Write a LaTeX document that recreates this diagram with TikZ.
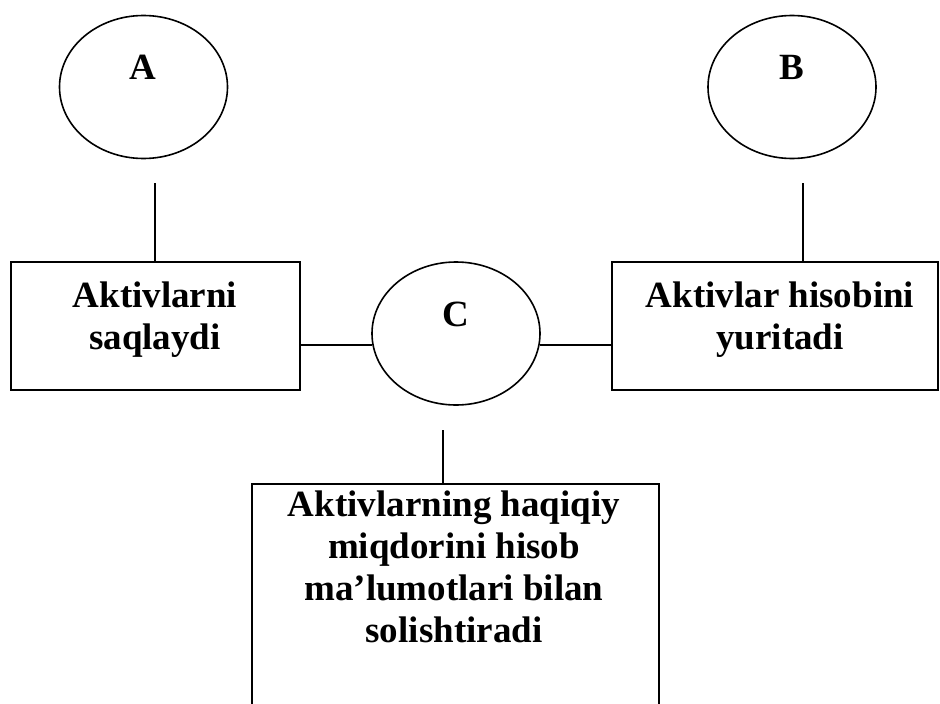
\documentclass[tikz,border=0pt]{standalone}
\usepackage{fontspec}
\setmainfont{Liberation Serif}
\usetikzlibrary{shapes.geometric}
\begin{document}
\begin{tikzpicture}[x=1pt,y=-1pt,
  every node/.style={font=\bfseries\fontsize{37}{42}\selectfont},
  oval/.style={draw,ellipse,line width=1.6pt,inner sep=0pt,minimum width=168pt,minimum height=143pt},
  panel/.style={draw,rectangle,line width=1.6pt,inner sep=0pt},
  caption/.style={anchor=base,align=center,inner sep=0pt},
  link/.style={line width=1.6pt}]
\useasboundingbox (0,0) rectangle (940,704);
\clip (0,0) rectangle (940,704);
\fill[white] (0,0) rectangle (940,704);

% ovals
\node[oval] (A) at (143.5,87) {};
\node[oval] (B) at (792,87) {};
\node[oval] (C) at (456,333.5) {};
\node[caption] (Atxt) at (143,79) {A};
\node[caption] (Btxt) at (792,79) {B};
\node[caption] (Ctxt) at (456,326) {C};

% boxes (caption anchors sit on the baseline of the last line)
\node[panel,minimum width=289pt,minimum height=128pt] (L) at (155.5,326) {};
\node[panel,minimum width=326pt,minimum height=128pt] (R) at (775,326) {};
\node[panel,minimum width=407pt,minimum height=260pt] (D) at (455.5,614) {};
\node[caption] (Ltxt) at (155,349.5) {Aktivlarni\\saqlaydi};
\node[caption] (Rtxt) at (780,349.5) {Aktivlar hisobini\\yuritadi};
\node[caption] (Dtxt) at (454,642.5) {Aktivlarning haqiqiy\\miqdorini hisob\\ma’lumotlari bilan\\solishtiradi};

% connectors
\coordinate (a1) at (155,183);
\coordinate (b1) at (803,183);
\coordinate (c1) at (443,430);
\draw[link] (a1) -- (a1 |- L.north);
\draw[link] (b1) -- (b1 |- R.north);
\draw[link] (c1) -- (c1 |- D.north);
\draw[link] (C.188.6) -- (C.188.6 -| L.east);
\draw[link] (C.-8.6) -- (C.-8.6 -| R.west);
\end{tikzpicture}
\end{document}
